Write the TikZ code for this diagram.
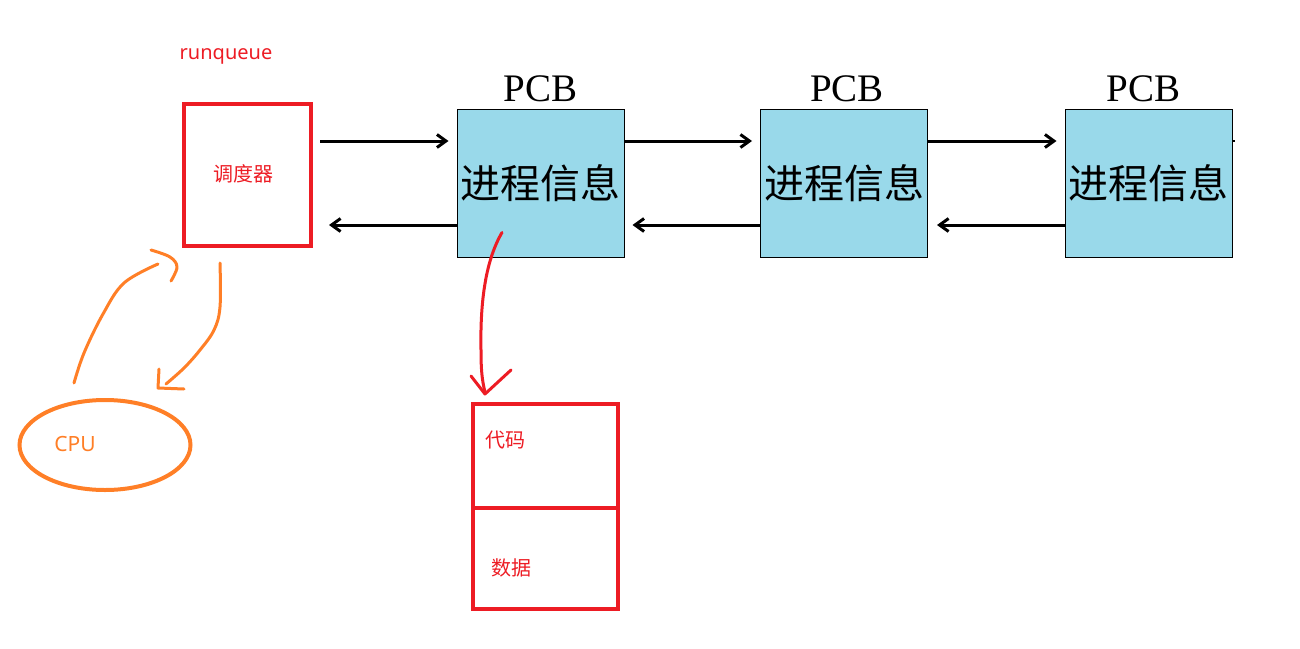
\documentclass[tikz,border=0pt]{standalone}
\usepackage{fontspec}
\setmainfont{Liberation Serif}
\newfontfamily\cjk{Noto Sans CJK SC}
\newfontfamily\lat{Noto Sans}
\usetikzlibrary{arrows.meta,calc,shapes.geometric}
\definecolor{pred}{RGB}{237,28,36}
\definecolor{porange}{RGB}{255,127,39}
\definecolor{pblue}{RGB}{153,217,234}
\begin{document}
\begin{tikzpicture}[x=1pt,y=-1pt,
  pcbbox/.style={draw=black,line width=1pt,fill=pblue,minimum width=167pt,minimum height=148pt,inner sep=0pt,font=\cjk\fontsize{40pt}{40pt}\selectfont},
  pcblabel/.style={inner sep=0pt,font=\fontsize{39pt}{39pt}\selectfont},
  link/.style={line width=3pt,-{Straight Barb[length=9pt,width=13pt]}},
  redbox/.style={draw=pred,line width=4pt,inner sep=0pt},
  redtext/.style={text=pred,inner sep=0pt,font=\cjk\fontsize{20pt}{20pt}\selectfont},
  orangeline/.style={draw=porange,line width=3pt,line cap=round,line join=round},
  redline/.style={draw=pred,line width=3pt,line cap=round,line join=round}
]
\useasboundingbox (0,0) rectangle (1300,648);
\coordinate (top) at (0,141);
\coordinate (bot) at (0,225);

% runqueue and scheduler
\node[text=pred,inner sep=0pt,font=\lat\fontsize{20pt}{20pt}\selectfont] (rq) at (226,56) {runqueue};
\node[redbox,minimum width=127pt,minimum height=142pt] (s) at (247.5,175) {};
\node[redtext] (stext) at (243,174) {调度器};

% PCB boxes
\node[pcbbox] (p1) at (540.5,183) {进程信息};
\node[pcbbox] (p2) at (844,183) {进程信息};
\node[pcbbox] (p3) at (1148.5,183) {进程信息};
\node[pcblabel] (l1) at ($(p1.north)+(0,-20)$) {PCB};
\node[pcblabel] (l2) at ($(p2.north)+(3,-20)$) {PCB};
\node[pcblabel] (l3) at ($(p3.north)+(-5,-20)$) {PCB};

% links
\draw[link] ($(s.east |- top)+(7,0)$) -- ($(p1.west |- top)+(-8,0)$);
\draw[link] (p1.east |- top) -- ($(p2.west |- top)+(-8,0)$);
\draw[link] (p2.east |- top) -- ($(p3.west |- top)+(-8,0)$);
\draw[line width=2pt] (p3.east |- top) -- ++(2,0);
\draw[link] (p1.west |- bot) -- ($(s.east |- bot)+(16,0)$);
\draw[link] (p2.west |- bot) -- ($(p1.east |- bot)+(8,0)$);
\draw[link] (p3.west |- bot) -- ($(p2.east |- bot)+(9,0)$);

% memory box
\node[redbox,minimum width=145pt,minimum height=104pt] (m1) at (545.5,456) {};
\node[redbox,minimum width=145pt,minimum height=101pt] (m2) at (545.5,558.5) {};
\node[redtext] (code) at (505,440) {代码};
\node[redtext] (data) at (511,568) {数据};

% red curved arrow
\coordinate (rs) at ($(p1.south)+(-38.5,-25)$);
\draw[redline] (rs) .. controls (486,260) and (480,300) .. (481,350) .. controls (481,370) and (482,380) .. (485,392);
\draw[redline] (471,376) -- (485,394) -- (511,370);

% CPU
\node[draw=porange,line width=4pt,ellipse,minimum width=171pt,minimum height=90pt,inner sep=0pt] (cpu) at (105,445) {};
\node[text=porange,inner sep=0pt,font=\lat\fontsize{21pt}{21pt}\selectfont] (cputext) at (75,444) {CPU};

% orange curves
\draw[orangeline] plot[smooth,tension=0.6] coordinates {(74,383) (84,353) (103,314) (124,283) (158,264)};
\draw[orangeline] plot[smooth,tension=0.6] coordinates {(151,250) (170,257) (177,267) (171,281)};
\draw[orangeline] plot[smooth,tension=0.6] coordinates {(220,263) (220,307) (214,330) (200,350) (184,368) (166,384)};
\draw[orangeline] (159,369) -- (158,388) -- (184,389);
\end{tikzpicture}
\end{document}
